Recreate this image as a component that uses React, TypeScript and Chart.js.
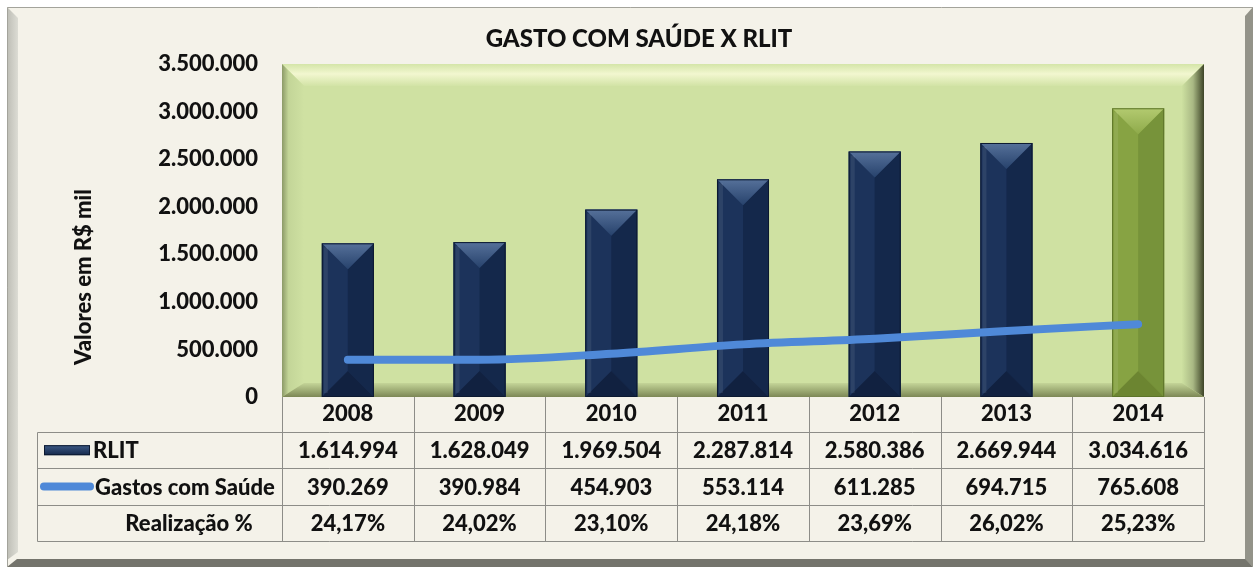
import React, { useEffect, useRef } from "react";
import { Chart, registerables } from "chart.js";

Chart.register(...registerables);

// ---------- data ----------
const years = ["2008", "2009", "2010", "2011", "2012", "2013", "2014"];
const rlit = [1614994, 1628049, 1969504, 2287814, 2580386, 2669944, 3034616];
const gastosSaude = [390269, 390984, 454903, 553114, 611285, 694715, 765608];
const realizacao = [24.17, 24.02, 23.1, 24.18, 23.69, 26.02, 25.23];
const seriesNames = ["RLIT", "Gastos com Saúde", "Realização %"];
const chartTitle = "GASTO COM SAÚDE X RLIT";
const yAxisTitle = "Valores em R$ mil";
const yMin = 0;
const yMax = 3500000;
const yStep = 500000;

// ---------- styles ----------
const FONT = "Lato, 'Open Sans', sans-serif";
const FS = 22;
const FW = "900";
const TEXT = "#111111";
const NAVY = { left: "#1c335b", right: "#14284b", top1: "#56719a", top2: "#27426c", bottom: "#112140", edge: "#0c1930" };
const GREEN = { left: "#87a343", right: "#77933a", top1: "#b3ca70", top2: "#8eaa4a", bottom: "#6c8531", edge: "#5d742a" };
const LINE_BLUE = "#4f89d8";
const GRID_GRAY = "#8d8d88";

const fmtNum = (n: number) => String(Math.round(n)).replace(/\B(?=(\d{3})+(?!\d))/g, ".");
const fmtPct = (v: number) => v.toFixed(2).replace(".", ",") + "%";

const TABLE_LEFT = 37;
const HEADER_BOTTOM = 432;
const ROW_H = 36.4;

const framePlugin = {
  id: "frame",
  beforeDraw(chart: any) {
    const { ctx, width, height } = chart;
    ctx.save();
    ctx.fillStyle = "#ffffff";
    ctx.fillRect(0, 0, width, height);
    ctx.fillStyle = "#f4f2e9";
    ctx.fillRect(7, 7, width - 7, height - 7);
    const lg = ctx.createLinearGradient(7, 0, 18, 0);
    lg.addColorStop(0, "#bdbdb5");
    lg.addColorStop(1, "#dcdcd4");
    ctx.fillStyle = lg;
    ctx.beginPath();
    ctx.moveTo(7, 7);
    ctx.lineTo(18, 18);
    ctx.lineTo(18, 552);
    ctx.lineTo(7, 560);
    ctx.closePath();
    ctx.fill();
    ctx.fillStyle = "#939389";
    ctx.beginPath();
    ctx.moveTo(1245, 16);
    ctx.lineTo(width, 7);
    ctx.lineTo(width, height);
    ctx.lineTo(1245, 560);
    ctx.closePath();
    ctx.fill();
    ctx.fillStyle = "#74746c";
    ctx.beginPath();
    ctx.moveTo(7, height);
    ctx.lineTo(17, 559);
    ctx.lineTo(1245, 559);
    ctx.lineTo(width, height);
    ctx.closePath();
    ctx.fill();
    ctx.strokeStyle = "#a3a39b";
    ctx.lineWidth = 1;
    ctx.beginPath();
    ctx.moveTo(7.5, height);
    ctx.lineTo(7.5, 7.5);
    ctx.lineTo(width, 7.5);
    ctx.stroke();

    // plot area with bevel
    const a = chart.chartArea;
    const L = a.left, R = a.right, T = a.top, B = a.bottom;
    const bw = 22, bb = 14;
    ctx.fillStyle = "#cfe1a2";
    ctx.fillRect(L, T, R - L, B - T);
    const tg = ctx.createLinearGradient(0, T, 0, T + bw);
    tg.addColorStop(0, "#d4e5a8");
    tg.addColorStop(0.45, "#f2f7d0");
    tg.addColorStop(1, "#d2e3a5");
    ctx.fillStyle = tg;
    ctx.beginPath();
    ctx.moveTo(L, T);
    ctx.lineTo(R, T);
    ctx.lineTo(R - bw, T + bw);
    ctx.lineTo(L + bw, T + bw);
    ctx.closePath();
    ctx.fill();
    const lg2 = ctx.createLinearGradient(L, 0, L + bw, 0);
    lg2.addColorStop(0, "#8c9a68");
    lg2.addColorStop(0.3, "#c3d598");
    lg2.addColorStop(1, "#cfe1a2");
    ctx.fillStyle = lg2;
    ctx.beginPath();
    ctx.moveTo(L, T);
    ctx.lineTo(L + bw, T + bw);
    ctx.lineTo(L + bw, B - bb);
    ctx.lineTo(L, B);
    ctx.closePath();
    ctx.fill();
    const rg = ctx.createLinearGradient(R - bw, 0, R, 0);
    rg.addColorStop(0, "#cde0a0");
    rg.addColorStop(0.5, "#a9b884");
    rg.addColorStop(1, "#3d4427");
    ctx.fillStyle = rg;
    ctx.beginPath();
    ctx.moveTo(R, T);
    ctx.lineTo(R, B);
    ctx.lineTo(R - bw, B - bb);
    ctx.lineTo(R - bw, T + bw);
    ctx.closePath();
    ctx.fill();
    const bg = ctx.createLinearGradient(0, B - bb, 0, B);
    bg.addColorStop(0, "#c4d598");
    bg.addColorStop(1, "#7c8755");
    ctx.fillStyle = bg;
    ctx.beginPath();
    ctx.moveTo(L, B);
    ctx.lineTo(L + bw, B - bb);
    ctx.lineTo(R - bw, B - bb);
    ctx.lineTo(R, B);
    ctx.closePath();
    ctx.fill();

    // chart title
    ctx.fillStyle = TEXT;
    ctx.font = `${FW} 24px ${FONT}`;
    ctx.textAlign = "center";
    ctx.textBaseline = "middle";
    ctx.fillText(chartTitle, 639, 39);
    // y axis title
    ctx.save();
    ctx.translate(84, 277);
    ctx.rotate(-Math.PI / 2);
    ctx.font = `${FW} ${FS}px ${FONT}`;
    ctx.fillText(yAxisTitle, 0, 0);
    ctx.restore();
    ctx.restore();
  },
};

const barBevelPlugin = {
  id: "barBevel",
  afterDatasetDraw(chart: any, args: any) {
    if (args.index !== 0) return;
    const { ctx } = chart;
    const meta = chart.getDatasetMeta(0);
    ctx.save();
    meta.data.forEach((el: any, i: number) => {
      const p = el.getProps(["x", "y", "base", "width"], true);
      const x0 = p.x - p.width / 2;
      const x1 = p.x + p.width / 2;
      const xc = p.x;
      const top = Math.min(p.y, p.base);
      const base = Math.max(p.y, p.base);
      const h = Math.min(p.width / 2, (base - top) / 2);
      const c = i === years.length - 1 ? GREEN : NAVY;
      ctx.fillStyle = c.left;
      ctx.beginPath();
      ctx.moveTo(x0, top);
      ctx.lineTo(xc, top + h);
      ctx.lineTo(xc, base - h);
      ctx.lineTo(x0, base);
      ctx.closePath();
      ctx.fill();
      ctx.fillStyle = c.right;
      ctx.beginPath();
      ctx.moveTo(x1, top);
      ctx.lineTo(xc, top + h);
      ctx.lineTo(xc, base - h);
      ctx.lineTo(x1, base);
      ctx.closePath();
      ctx.fill();
      const g = ctx.createLinearGradient(0, top, 0, top + h);
      g.addColorStop(0, c.top1);
      g.addColorStop(1, c.top2);
      ctx.fillStyle = g;
      ctx.beginPath();
      ctx.moveTo(x0, top);
      ctx.lineTo(x1, top);
      ctx.lineTo(xc, top + h);
      ctx.closePath();
      ctx.fill();
      ctx.fillStyle = c.bottom;
      ctx.beginPath();
      ctx.moveTo(x0, base);
      ctx.lineTo(x1, base);
      ctx.lineTo(xc, base - h);
      ctx.closePath();
      ctx.fill();
      ctx.fillStyle = "rgba(255,255,255,0.08)";
      ctx.fillRect(x0 + 2, top + 4, 4, base - top - 8);
      ctx.strokeStyle = c.edge;
      ctx.lineWidth = 1;
      ctx.strokeRect(x0 + 0.5, top + 0.5, p.width - 1, base - top - 1);
    });
    ctx.restore();
  },
};

const tablePlugin = {
  id: "dataTable",
  afterDraw(chart: any) {
    const { ctx } = chart;
    const a = chart.chartArea;
    const xs = chart.scales.x;
    const L = a.left, R = a.right, B = a.bottom;
    const n = years.length;
    const colW = (R - L) / n;
    const rowsY = [HEADER_BOTTOM, HEADER_BOTTOM + ROW_H, HEADER_BOTTOM + 2 * ROW_H, HEADER_BOTTOM + 3 * ROW_H];
    ctx.save();
    ctx.strokeStyle = GRID_GRAY;
    ctx.lineWidth = 1;
    ctx.beginPath();
    rowsY.forEach((y) => {
      const yy = Math.round(y) + 0.5;
      ctx.moveTo(TABLE_LEFT + 0.5, yy);
      ctx.lineTo(R + 0.5, yy);
    });
    for (let i = 0; i <= n; i++) {
      const xx = Math.round(L + i * colW) + 0.5;
      ctx.moveTo(xx, B);
      ctx.lineTo(xx, Math.round(rowsY[3]) + 0.5);
    }
    ctx.moveTo(TABLE_LEFT + 0.5, Math.round(rowsY[0]) + 0.5);
    ctx.lineTo(TABLE_LEFT + 0.5, Math.round(rowsY[3]) + 0.5);
    ctx.stroke();

    ctx.fillStyle = TEXT;
    ctx.font = `${FW} ${FS}px ${FONT}`;
    ctx.textBaseline = "middle";
    ctx.textAlign = "center";
    const rowsData = [rlit.map(fmtNum), gastosSaude.map(fmtNum), realizacao.map(fmtPct)];
    rowsData.forEach((vals, r) => {
      const cy = rowsY[r] + ROW_H / 2 + 1;
      vals.forEach((v, i) => {
        ctx.fillText(v, xs.getPixelForValue(i), cy);
      });
    });

    const cy0 = rowsY[0] + ROW_H / 2;
    const kg = ctx.createLinearGradient(0, cy0 - 5, 0, cy0 + 5);
    kg.addColorStop(0, "#3d5a86");
    kg.addColorStop(1, "#14284b");
    ctx.fillStyle = kg;
    ctx.fillRect(44, cy0 - 5, 46, 10);
    ctx.strokeStyle = NAVY.edge;
    ctx.strokeRect(44.5, cy0 - 4.5, 45, 9);
    ctx.fillStyle = TEXT;
    ctx.textAlign = "left";
    ctx.fillText(seriesNames[0], 93, cy0 + 1);

    const cy1 = rowsY[1] + ROW_H / 2;
    ctx.strokeStyle = LINE_BLUE;
    ctx.lineWidth = 8;
    ctx.lineCap = "round";
    ctx.beginPath();
    ctx.moveTo(44, cy1);
    ctx.lineTo(90, cy1);
    ctx.stroke();
    ctx.fillText(seriesNames[1], 95, cy1 + 1);

    const cy2 = rowsY[2] + ROW_H / 2;
    ctx.textAlign = "center";
    ctx.fillText(seriesNames[2], 189, cy2 + 1);
    ctx.restore();
  },
};

export default function App() {
  const canvasRef = useRef<HTMLCanvasElement | null>(null);

  useEffect(() => {
    const canvas = canvasRef.current;
    if (!canvas) return;
    const chart = new Chart(canvas, {
      type: "bar",
      data: {
        labels: years,
        datasets: [
          {
            type: "bar",
            label: seriesNames[0],
            data: rlit,
            backgroundColor: years.map((_, i) => (i === years.length - 1 ? GREEN.left : NAVY.left)),
            borderWidth: 0,
            barPercentage: 0.395,
            categoryPercentage: 1,
            order: 2,
          },
          {
            type: "line",
            label: seriesNames[1],
            data: gastosSaude,
            borderColor: LINE_BLUE,
            backgroundColor: LINE_BLUE,
            borderWidth: 8,
            borderCapStyle: "round",
            pointRadius: 0,
            cubicInterpolationMode: "monotone",
            fill: false,
            order: 1,
          },
        ],
      },
      options: {
        responsive: false,
        animation: false,
        devicePixelRatio: 1,
        layout: { padding: { top: 64, right: 49, bottom: 0, left: 0 } },
        plugins: {
          legend: { display: false },
          title: { display: false },
          tooltip: { enabled: false },
        },
        scales: {
          x: {
            type: "category",
            grid: { display: false, drawTicks: false },
            border: { display: false },
            ticks: {
              color: TEXT,
              font: { family: FONT, size: FS, weight: FW },
              padding: 4,
              maxRotation: 0,
            },
            afterFit: (s: any) => {
              s.height = 170;
            },
          },
          y: {
            min: yMin,
            max: yMax,
            grid: { display: false, drawTicks: false },
            border: { display: false },
            ticks: {
              stepSize: yStep,
              color: TEXT,
              font: { family: FONT, size: FS, weight: FW },
              padding: 24,
              callback: (v: any) => fmtNum(Number(v)),
            },
            afterFit: (s: any) => {
              s.width = 282;
            },
          },
        },
      },
      plugins: [framePlugin, barBevelPlugin, tablePlugin],
    });
    return () => chart.destroy();
  }, []);

  return (
    <div style={{ position: "fixed", left: 0, top: 0, width: 1253, height: 567 }}>
      <canvas ref={canvasRef} width={1253} height={567} style={{ display: "block" }} />
    </div>
  );
}
